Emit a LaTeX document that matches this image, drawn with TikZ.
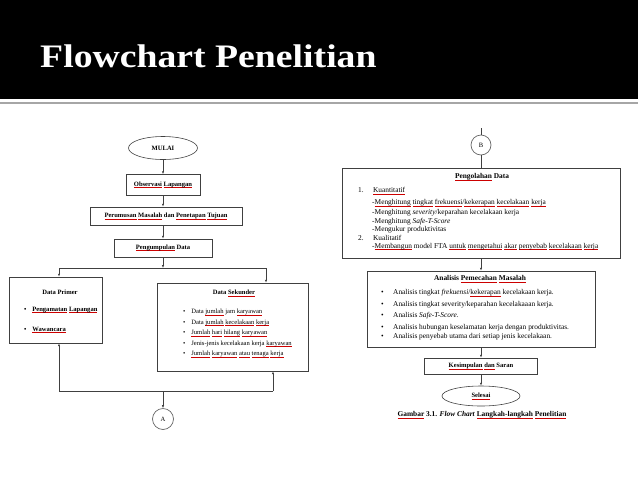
\documentclass[tikz,border=0pt]{standalone}
\usepackage{fontspec}
\setmainfont{Liberation Serif}
\usetikzlibrary{shapes.geometric,arrows.meta,positioning}
\def\pu{0.3mm}
\newsavebox\sqbox
\newcommand\sq[1]{\sbox\sqbox{#1}\rlap{\textcolor{red!80!black}{\rule[-1.1pt]{\wd\sqbox}{0.3pt}}}\usebox\sqbox}
\newcommand\smallfont{\fontsize{5.6}{6.5}\selectfont}
\newcommand\medfont{\fontsize{6.3}{7.2}\selectfont}
\tikzset{
  flowbox/.style={draw=black!75, line width=0.5pt, rectangle, inner sep=0pt, font=\smallfont\bfseries},
  termnode/.style={draw=black!75, line width=0.5pt, ellipse, inner sep=0pt, font=\smallfont\bfseries},
  joinnode/.style={draw=black!60, line width=0.6pt, circle, inner sep=0pt, minimum size=21*\pu, font=\smallfont},
  flowline/.style={draw=black!75, line width=0.5pt},
  flowarrow/.style={flowline, -{Latex[length=2.5pt,width=2pt]}},
  itemtext/.style={anchor=west, inner sep=0pt, font=\smallfont},
  rightitem/.style={itemtext, font=\medfont},
}
\begin{document}
\begin{tikzpicture}[x=0.3mm, y=-0.3mm]
\useasboundingbox (0,0) rectangle (638,479);

% header
\fill[black] (0,0) rectangle (638,99);
\draw[black!35, line width=1pt] (0,103) -- (638,103);
\node[anchor=base west, inner sep=0pt, text=white, font=\fontsize{28}{30}\selectfont\bfseries] (title) at (40,67) {\scalebox{1.15}[1]{Flowchart Penelitian}};

% left chart: nodes
\node[termnode, minimum width=69*\pu, minimum height=23*\pu] (mulai) at (163,148) {MULAI};
\node[flowbox, minimum width=74*\pu, minimum height=21*\pu] (obs) at (163,185) {\sq{Observasi} \sq{Lapangan}};
\node[flowbox, minimum width=152*\pu, minimum height=18*\pu] (rumus) at (166,216) {\sq{Perumusan} \sq{Masalah} dan \sq{Penetapan} \sq{Tujuan}};
\node[flowbox, minimum width=98*\pu, minimum height=18*\pu] (kumpul) at (163,248) {\sq{Pengumpulan} Data};
\node[flowbox, minimum width=93*\pu, minimum height=66*\pu] (primer) at (55.5,310) {};
\node[flowbox, minimum width=151*\pu, minimum height=88*\pu] (sekunder) at (232.5,327) {};
\node[joinnode] (conA) at (163,419) {A};

% box texts
\node[itemtext, anchor=center, font=\smallfont\bfseries] (primerT) at (60,292) {Data Primer};
\node[itemtext, font=\smallfont\bfseries] (primer1) at (24,310) {\textbullet\hspace{5pt}\sq{Pengamatan} \sq{Lapangan}};
\node[itemtext, font=\smallfont\bfseries] (primer2) at (24,330) {\textbullet\hspace{5pt}\sq{Wawancara}};
\node[itemtext, anchor=center, font=\smallfont\bfseries] (sekunderT) at (234,293) {Data \sq{Sekunder}};
\node[itemtext] (sek1) at (183,312) {\textbullet\hspace{5pt}Data \sq{jumlah} jam \sq{karyawan}};
\node[itemtext] (sek2) at (183,322.5) {\textbullet\hspace{5pt}Data \sq{jumlah} \sq{kecelakaan} \sq{kerja}};
\node[itemtext] (sek3) at (183,333) {\textbullet\hspace{5pt}\sq{Jumlah} \sq{hari} \sq{hilang} \sq{karyawan}};
\node[itemtext] (sek4) at (183,343.5) {\textbullet\hspace{5pt}Jenis-jenis kecelakaan kerja \sq{karyawan}};
\node[itemtext] (sek5) at (183,354) {\textbullet\hspace{5pt}\sq{Jumlah} \sq{karyawan} \sq{atau} \sq{tenaga} \sq{kerja}};

% left chart: helper points
\coordinate (split) at (163,268);
\coordinate (splitL) at (59,268);
\coordinate (splitR) at (266,268);
\coordinate (join) at (163,391);
\coordinate (joinL) at (59,391);
\coordinate (joinR) at (273,391);

% left chart: edges
\draw[flowarrow] (mulai) -- (obs);
\draw[flowarrow] (obs.south) -- (obs.south |- rumus.north);
\draw[flowarrow] (rumus.south -| kumpul) -- (kumpul);
\draw[flowarrow] (kumpul) -- (split);
\draw[flowline] (splitL) -- (splitR);
\draw[flowarrow] (splitL) -- (splitL |- primer.north);
\draw[flowarrow] (splitR) -- (splitR |- sekunder.north);
\draw[flowarrow] (joinL) -- (joinL |- primer.south);
\draw[flowarrow] (joinR) -- (joinR |- sekunder.south);
\draw[flowline] (joinL) -- (joinR);
\draw[flowarrow] (join) -- (conA);

% right chart: nodes
\coordinate (topB) at (481,128);
\node[joinnode, minimum size=20*\pu] (conB) at (481,145) {B};
\node[flowbox, minimum width=278*\pu, minimum height=90*\pu] (olah) at (481,213) {};
\node[flowbox, minimum width=228*\pu, minimum height=76*\pu] (analisis) at (481,309) {};
\node[flowbox, minimum width=113*\pu, minimum height=16*\pu] (simpul) at (481,366) {\sq{Kesimpulan} \sq{dan} Saran};
\node[termnode, minimum width=78*\pu, minimum height=20*\pu] (selesai) at (481,396) {\sq{Selesai}};
\node[rightitem, anchor=center, font=\medfont\bfseries] (caption) at (482,415) {\sq{Gambar} 3.1. \textit{Flow Chart} \sq{Langkah-langkah} \sq{Penelitian}};

% box texts
\node[rightitem, anchor=center, font=\medfont\bfseries] (olahT) at (482,177) {\sq{Pengolahan} Data};
\node[rightitem] (olah1) at (358,191) {1.\hspace{8pt}\sq{Kuantitatif}};
\node[rightitem] (olah2) at (372,203) {-\sq{Menghitung} \sq{tingkat} \sq{frekuensi}/\sq{kekerapan} \sq{kecelakaan} \sq{kerja}};
\node[rightitem] (olah3) at (372,213) {-Menghitung \textit{severity}/keparahan kecelakaan kerja};
\node[rightitem] (olah4) at (372,221.5) {-Menghitung \textit{Safe-T-Score}};
\node[rightitem] (olah5) at (372,230) {-Mengukur produktivitas};
\node[rightitem] (olah6) at (358,238) {2.\hspace{8pt}Kualitatif};
\node[rightitem] (olah7) at (372,246.5) {-\sq{Membangun} model FTA \sq{untuk} \sq{mengetahui} \sq{akar} \sq{penyebab} \sq{kecelakaan} \sq{kerja}};
\node[rightitem, anchor=center, font=\medfont\bfseries] (analisisT) at (480,279) {Analisis \sq{Pemecahan} \sq{Masalah}};
\node[rightitem] (ana1) at (381,293) {\textbullet\hspace{8pt}Analisis tingkat \textit{frekuensi}/\sq{kekerapan} kecelakaan kerja.};
\node[rightitem] (ana2) at (381,304.5) {\textbullet\hspace{8pt}Analisis tingkat severity/keparahan kecelakaaan kerja.};
\node[rightitem] (ana3) at (381,316) {\textbullet\hspace{8pt}Analisis \textit{Safe-T-Score}.};
\node[rightitem] (ana4) at (381,327.5) {\textbullet\hspace{8pt}Analisis hubungan keselamatan kerja dengan produktivitas.};
\node[rightitem] (ana5) at (381,337) {\textbullet\hspace{8pt}Analisis penyebab utama dari setiap jenis kecelakaan.};

% right chart: edges
\draw[flowline] (topB) -- (conB);
\draw[flowline] (conB) -- (olah);
\draw[flowarrow] (olah) -- (analisis);
\draw[flowarrow] (analisis) -- (simpul);
\draw[flowarrow] (simpul) -- (selesai);

\end{tikzpicture}
\end{document}
